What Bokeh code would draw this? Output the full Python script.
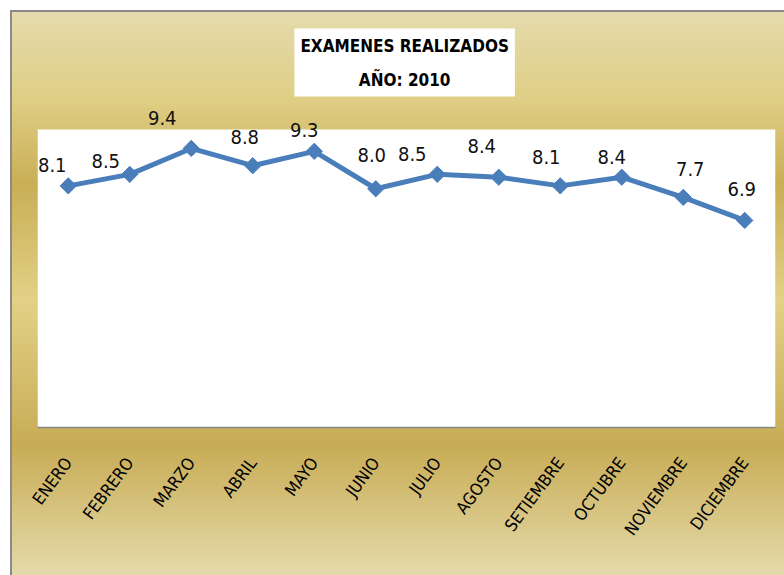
import math
from bokeh.plotting import figure
from bokeh.models import ColumnDataSource, LabelSet, Label, FactorRange, Range1d, BoxAnnotation
from bokeh.core.properties import value
from bokeh.embed import file_html
from bokeh.resources import INLINE

# ---- data ----
months = ["ENERO", "FEBRERO", "MARZO", "ABRIL", "MAYO", "JUNIO",
          "JULIO", "AGOSTO", "SETIEMBRE", "OCTUBRE", "NOVIEMBRE", "DICIEMBRE"]
values = [8.1, 8.5, 9.4, 8.8, 9.3, 8.0, 8.5, 8.4, 8.1, 8.4, 7.7, 6.9]
title_lines = ["EXAMENES REALIZADOS", "AÑO: 2010"]
axis_min, axis_max = -0.29, 10.06

# label placement offsets (screen px, layout only)
label_dx = [-16, -24, -29, -8, -10, -4, -25, -17, -14, -10, 7, -3]
label_dy = [21, 13, 30, 29, 21, 34, 20, 31, 29, 20, 28, 31]

FONT = "'DejaVu Sans Condensed', 'Liberation Sans Narrow', Roboto"
BLUE = "#4A7EBB"

src = ColumnDataSource(dict(
    month=months,
    value=values,
    label=[f"{v:.1f}" for v in values],
    dx=label_dx,
    dy=label_dy,
))

p = figure(width=784, height=575,
           x_range=FactorRange(*months, range_padding=0),
           y_range=Range1d(axis_min, 14.12),
           y_axis_location=None,
           output_backend="svg", toolbar_location=None,
           min_border_left=37, min_border_right=9,
           min_border_top=12, min_border_bottom=148)

p.background_fill_alpha = 0
p.border_fill_alpha = 0
p.outline_line_color = None
p.xgrid.grid_line_color = None
p.ygrid.grid_line_color = None

grad = ("linear-gradient(180deg, #E5DBAE 0px, #DFCE84 90px, #C9AE55 175px, "
        "#E2D186 290px, #C8AC55 435px, #E4DAAA 565px)")
p.styles = {
    "background": (
        "linear-gradient(#8A8A8A,#8A8A8A) 10px 10px / 2px 100% no-repeat, "
        "linear-gradient(#8A8A8A,#8A8A8A) 10px 10px / 100% 2px no-repeat, "
        + grad + " 10px 10px / 100% 100% no-repeat, #ffffff"
    )
}

# white plot area
p.add_layout(BoxAnnotation(bottom=axis_min, top=axis_max, fill_color="white",
                           fill_alpha=1, line_color=None, level="underlay"))

ax = p.xaxis[0]
ax.axis_line_color = "#878787"
ax.axis_line_width = 1.5
ax.major_tick_line_color = None
ax.minor_tick_line_color = None
ax.major_label_orientation = 0.93
ax.major_label_standoff = 26
ax.major_label_text_font = FONT
ax.major_label_text_font_size = "17px"
ax.major_label_text_color = "#000000"

p.line(x="month", y="value", source=src, line_color=BLUE, line_width=5)
p.scatter(x="month", y="value", source=src, marker="square", angle=math.pi / 4,
          size=11.5, fill_color=BLUE, line_color=BLUE)

labels = LabelSet(x="month", y="value", text="label", source=src,
                  x_offset="dx", y_offset="dy",
                  text_align="center", text_baseline="middle",
                  text_font=value(FONT), text_font_size=value("20px"),
                  text_color=value("#111111"))
p.add_layout(labels)

title = Label(x=5.97, y=12.38, text="\n".join(title_lines),
              text_align="center", text_baseline="middle",
              text_font=FONT, text_font_style="bold", text_font_size="17px",
              text_line_height=1.7, text_color="#000000",
              background_fill_color="white", padding=(6, 7))
p.add_layout(title)

open("out.html", "w").write(file_html(p, INLINE))
